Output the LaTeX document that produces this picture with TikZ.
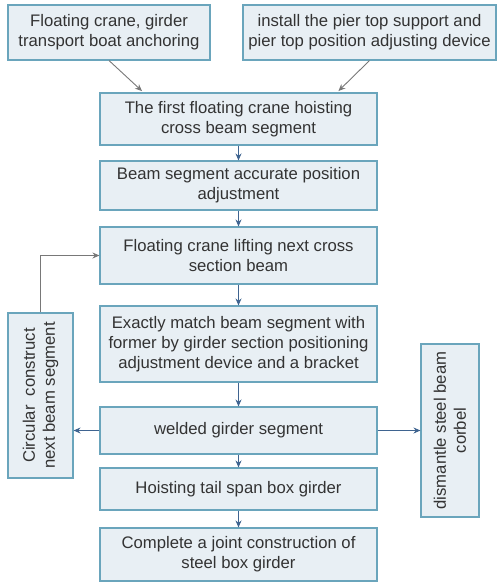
\documentclass[tikz,border=0pt]{standalone}
\usepackage{fontspec}
\setmainfont{Liberation Sans}
\usetikzlibrary{arrows.meta,calc}
\definecolor{boxfill}{HTML}{E8EFF4}
\definecolor{boxline}{HTML}{6AA5BC}
\definecolor{arrblue}{HTML}{3F6490}
\definecolor{arrgrey}{HTML}{787878}
\definecolor{txt}{HTML}{333333}
\tikzset{
  stepbox/.style={draw=boxline, line width=1.1pt, fill=boxfill, text=txt, align=center,
    inner sep=0pt, font=\fontsize{16.7}{20}\selectfont},
  sidetext/.style={text=txt, align=center, rotate=90, font=\fontsize{16.7}{20}\selectfont},
  flow/.style={draw=arrblue, line width=0.9pt, -{Stealth[length=7pt,width=6pt]}},
  feed/.style={draw=arrgrey, line width=0.9pt, -{Stealth[length=7pt,width=6pt]}}
}
\begin{document}
\begin{tikzpicture}[x=1pt,y=-1pt]
\useasboundingbox (0,0) rectangle (497,585);
\node[stepbox, minimum width=202pt, minimum height=55pt] (A) at (109,32.5) {Floating crane, girder\\transport boat anchoring};
\node[stepbox, minimum width=253pt, minimum height=55pt] (B) at (369.5,32.5) {install the pier top support and\\pier top position adjusting device};
\node[stepbox, minimum width=277pt, minimum height=52pt] (C) at (238.5,119) {The first floating crane hoisting\\cross beam segment};
\node[stepbox, minimum width=277pt, minimum height=49pt] (D) at (238.5,185.5) {Beam segment accurate position\\adjustment};
\node[stepbox, minimum width=277pt, minimum height=57pt] (E) at (238.5,255.5) {Floating crane lifting next cross\\section beam};
\node[stepbox, minimum width=277pt, minimum height=76pt] (F) at (238.5,344) {Exactly match beam segment with\\former by girder section positioning\\adjustment device and a bracket};
\node[stepbox, minimum width=277pt, minimum height=47pt] (G) at (238.5,430.5) {welded girder segment};
\node[stepbox, minimum width=277pt, minimum height=42pt] (H) at (238.5,489) {Hoisting tail span box girder};
\node[stepbox, minimum width=277pt, minimum height=53pt] (I) at (238.5,554.5) {Complete a joint construction of\\steel box girder};
\node[stepbox, minimum width=65pt, minimum height=165pt] (L) at (40.5,395.5) {};
\node[sidetext] (Lt) at (L.center) {Circular\ \ construct\\next beam segment};
\node[stepbox, minimum width=58pt, minimum height=173pt] (R) at (450,430.5) {};
\node[sidetext] (Rt) at (R.center) {dismantle steel beam\\corbel};
\draw[feed, shorten >=2pt] (A.south) -- ([xshift=-95pt]C.north);
\draw[feed, shorten >=2pt] (B.south) -- ([xshift=98.5pt]C.north);
\draw[flow] (C) -- (D);
\draw[flow] (D) -- (E);
\draw[flow] (E) -- (F);
\draw[flow] (F) -- (G);
\draw[flow] (G) -- (H);
\draw[flow] (H) -- (I);
\draw[flow] (G.west) -- (G.west -| L.east);
\draw[flow] (G.east) -- (G.east -| R.west);
\draw[feed] (L.north) |- (E.west);
\end{tikzpicture}
\end{document}
